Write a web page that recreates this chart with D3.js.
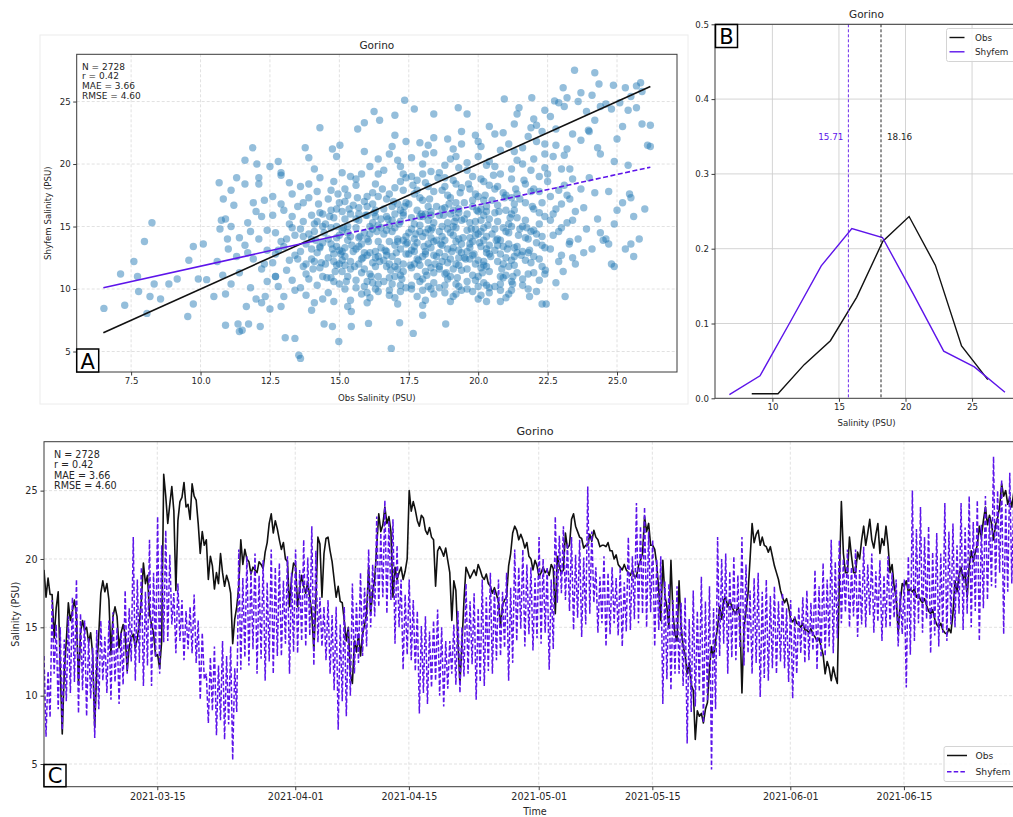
<!DOCTYPE html>
<html>
<head>
<meta charset="utf-8">
<script src="https://cdn.jsdelivr.net/npm/d3@7"></script>
<style>
body { margin: 0; background: #fff; }
svg text { font-family: "DejaVu Sans", sans-serif; fill: #262626; }
</style>
</head>
<body>
<svg id="fig" width="1013" height="817"></svg>
<script>
// ---- data ----
var stationName = "Gorino";
var statsLines = ["N = 2728", "r = 0.42", "MAE = 3.66", "RMSE = 4.60"];

// panel A: obs vs shyfem salinity (a thinned set of the scatter cloud)
var scatterOutliers = [
  [6.52,8.45],[7.12,11.2],[7.27,8.7],[7.6,12.2],[7.73,11.0],[7.77,9.8],[7.98,13.8],[8.07,8.05],[8.25,15.3],[8.18,9.4],
  [8.33,10.4],[8.56,9.2],[8.86,10.4],[9.16,10.8],[9.54,7.8],[9.58,12.3],[9.74,13.4],[9.74,8.8],[9.92,10.8],[10.1,13.6],
  [10.22,10.75],[10.48,9.4],[10.67,18.5],[10.82,17.2],[10.9,7.1],[10.97,14.0],[10.75,15.5],[11.1,15.0],[11.3,18.9],[11.35,7.2],
  [11.4,6.6],[11.5,6.7],[11.6,20.3],[11.65,8.6],[11.73,7.2],[11.88,21.3],[12.03,20.0],[12.1,18.4],[12.15,7.0],[12.33,9.4],
  [12.5,19.8],[12.5,8.4],[12.7,11.0],[12.9,19.3],[13.05,6.1],[13.4,6.05],[13.54,4.7],[13.6,4.45],[13.77,21.3],[13.9,18.4],
  [14.3,22.9],[14.45,7.2],[14.75,21.2],[14.75,7.0],[14.98,5.8],[15.02,21.5],[15.43,8.2],[15.43,7.0],[15.66,22.8],[15.9,23.3],
  [16.05,7.25],[16.25,24.2],[16.45,23.5],[16.87,5.25],[17.0,23.9],[17.17,7.3],[17.35,25.1],[17.66,6.45],[17.7,24.4],[18.0,7.9],
  [18.4,24.0],[18.83,7.2],[19.28,24.5],[19.6,24.0],[20.3,9.0],[20.8,9.0],[20.94,25.2],[21.24,10.4],[21.47,24.5],[21.85,9.4],
  [21.93,25.3],[22.3,8.8],[22.42,11.5],[22.45,8.8],[22.75,25.05],[23.06,26.1],[23.06,11.4],[23.13,9.4],[23.28,13.6],[23.47,27.5],
  [23.5,12.0],[23.7,25.7],[23.97,22.7],[24.2,27.3],[24.35,26.4],[24.5,13.9],[24.7,13.6],[24.8,12.0],[24.87,26.3],[24.9,11.8],
  [25.0,16.3],[25.3,26.1],[25.4,24.3],[25.45,17.6],[25.5,13.6],[25.6,12.6],[25.7,26.25],[25.85,26.5],[25.9,23.2],[26.1,21.5]
];
var scatterCore = [
  [10.6,12.2],[10.7,14.8],[10.8,11.1],[10.9,15.6],[11.0,13.2],[11.1,10.4],[11.2,16.7],[11.3,12.6],[11.4,14.1],[11.1,17.9],[10.9,9.6],[11.4,11.3],
  [11.6,13.5],[11.7,15.3],[11.8,10.1],[11.9,12.4],[12.0,16.2],[12.1,14.0],[12.2,11.6],[12.3,17.1],[12.4,13.1],[11.6,18.4],[11.8,14.6],[12.0,9.2],
  [12.2,15.8],[12.4,10.6],[11.7,12.9],[12.1,18.9],[12.3,12.0],[11.9,16.9],[12.4,14.7],[12.2,8.9],
  [12.6,12.1],[12.7,14.5],[12.8,10.2],[12.9,16.8],[13.0,13.4],[13.1,11.5],[13.2,15.2],[13.3,17.6],[13.4,12.7],[12.6,15.9],[12.8,13.1],[13.0,9.4],
  [13.2,18.5],[13.4,14.3],[12.7,11.0],[12.9,19.1],[13.1,14.0],[13.3,10.7],[12.6,17.4],[13.0,16.3],[13.4,9.9],[12.8,20.2],[13.2,12.3],[13.3,15.8],[12.9,8.6],
  [13.6,13.0],[13.7,15.4],[13.8,11.2],[13.9,17.3],[14.0,12.4],[14.1,14.6],[14.2,10.3],[14.3,16.1],[14.4,13.7],[13.6,18.2],[13.8,9.5],[14.0,15.9],
  [14.2,12.9],[14.4,11.0],[13.7,14.2],[13.9,10.8],[14.1,19.6],[14.3,13.3],[13.5,16.6],[14.4,15.0],[13.8,12.0],[14.0,8.3],[14.2,17.8],[14.3,11.7],
  [13.6,10.1],[14.1,12.2],[13.9,20.5],[14.4,9.2],[13.7,16.9],[14.0,14.0],[14.2,15.4],[13.8,13.6],[14.3,18.9],[14.1,8.9],[13.6,14.8],
  [14.6,12.5],[14.7,14.9],[14.8,10.6],[14.9,16.4],[15.0,13.1],[15.1,11.4],[15.2,15.6],[15.3,17.5],[15.4,12.2],[14.6,9.7],[14.8,18.6],[15.0,14.3],
  [15.2,10.0],[15.4,16.0],[14.7,13.6],[14.9,11.9],[15.1,19.3],[15.3,13.9],[14.5,15.2],[15.4,9.1],[14.8,12.8],[15.0,16.9],[15.2,13.3],[15.3,11.0],
  [14.6,17.2],[15.1,14.7],[14.9,20.6],[15.4,14.2],[14.7,10.9],[15.0,12.0],[15.2,18.0],[14.8,15.7],[15.3,8.6],[14.9,13.4],[15.1,16.2],[14.6,14.0],
  [15.4,19.0],[15.0,10.4],[15.2,12.6],[14.7,17.9],[15.3,15.0],[14.8,9.0],[15.1,13.0],[14.9,15.0],[15.4,11.6],
  [15.6,13.2],[15.7,15.5],[15.8,11.3],[15.9,17.0],[16.0,12.7],[16.1,14.4],[16.2,10.5],[16.3,16.3],[16.4,13.8],[15.6,18.8],[15.8,9.6],[16.0,15.9],
  [16.2,12.1],[16.4,11.0],[15.7,14.1],[15.9,10.2],[16.1,19.8],[16.3,13.0],[15.5,16.7],[16.4,15.1],[15.8,12.4],[16.0,8.9],[16.2,17.7],[16.3,11.8],
  [15.6,10.7],[16.1,12.9],[15.9,21.0],[16.4,9.8],[15.7,16.5],[16.0,14.0],[16.2,15.3],[15.8,13.6],[16.3,18.4],[16.1,9.3],[15.6,14.9],[16.4,20.4],
  [15.7,12.0],[16.0,17.4],[16.2,14.8],[15.9,11.6],[16.3,15.8],[15.8,19.2],[16.1,11.2],[16.4,12.6],[15.6,15.6],[16.0,10.6],[16.2,16.8],[15.9,14.5],
  [16.3,10.0],[15.7,13.4],
  [16.6,12.3],[16.7,14.7],[16.8,10.9],[16.9,16.6],[17.0,13.5],[17.1,11.6],[17.2,15.4],[17.3,17.9],[17.4,12.8],[16.6,19.5],[16.8,9.9],[17.0,16.0],
  [17.2,11.1],[17.4,14.2],[16.7,13.0],[16.9,10.4],[17.1,20.3],[17.3,13.9],[16.5,15.6],[17.4,16.9],[16.8,12.0],[17.0,9.3],[17.2,18.6],[17.3,11.4],
  [16.6,10.6],[17.1,14.0],[16.9,21.4],[17.4,10.1],[16.7,17.2],[17.0,14.9],[17.2,13.2],[16.8,15.1],[17.3,19.2],[17.1,8.8],[16.6,14.4],[17.4,21.8],
  [16.7,11.8],[17.0,18.1],[17.2,16.3],[16.9,12.6],[17.3,15.9],[16.8,17.6],[17.1,12.2],[17.4,13.6],[16.6,16.4],[17.0,11.0],[17.2,10.3],[16.9,14.6],
  [17.3,12.0],[16.7,15.8],[17.1,16.8],[16.5,13.3],[17.4,18.9],[16.8,13.8],[17.0,22.3],
  [17.6,13.1],[17.7,15.2],[17.8,11.0],[17.9,17.3],[18.0,12.6],[18.1,14.5],[18.2,10.2],[18.3,16.2],[18.4,13.8],[17.6,19.0],[17.8,9.4],[18.0,15.8],
  [18.2,12.1],[18.4,11.3],[17.7,14.0],[17.9,10.6],[18.1,20.8],[18.3,13.3],[17.5,16.8],[18.4,15.3],[17.8,12.4],[18.0,8.7],[18.2,18.2],[18.3,11.7],
  [17.6,10.3],[18.1,13.0],[17.9,21.7],[18.4,9.6],[17.7,17.6],[18.0,14.2],[18.2,15.5],[17.8,13.7],[18.3,19.4],[18.1,9.1],[17.6,14.8],[18.4,22.1],
  [17.7,12.0],[18.0,17.1],[18.2,14.8],[17.9,11.9],[18.3,15.9],[17.8,18.7],[18.1,11.4],[18.4,12.7],[17.6,15.7],[18.0,10.8],[18.2,16.6],[17.9,14.6],
  [18.3,10.0],[17.7,13.4],[18.1,16.0],[17.5,12.8],[18.4,17.8],[17.8,16.3],[18.0,20.0],[18.2,13.6],[17.9,15.1],[18.3,14.1],[17.6,11.7],[18.1,18.5],
  [18.6,12.9],[18.7,15.0],[18.8,11.2],[18.9,17.5],[19.0,12.4],[19.1,14.3],[19.2,10.4],[19.3,16.4],[19.4,13.6],[18.6,19.3],[18.8,9.7],[19.0,16.0],
  [19.2,12.0],[19.4,11.5],[18.7,14.2],[18.9,10.8],[19.1,21.2],[19.3,13.1],[18.5,16.6],[19.4,15.5],[18.8,12.6],[19.0,9.0],[19.2,18.4],[19.3,11.9],
  [18.6,10.1],[19.1,13.3],[18.9,22.0],[19.4,9.9],[18.7,17.9],[19.0,14.5],[19.2,15.7],[18.8,13.9],[19.3,19.7],[19.1,9.4],[18.6,14.6],[19.4,22.6],
  [18.7,12.2],[19.0,17.3],[19.2,14.9],[18.9,12.1],[19.3,16.1],[18.8,18.9],[19.1,11.6],[19.4,12.9],[18.6,15.9],[19.0,11.0],[19.2,16.9],[18.9,14.8],
  [19.3,10.2],[18.7,13.5],[19.1,16.3],[18.5,12.6],[19.4,18.1],[18.8,16.5],[19.0,20.4],[19.2,13.8],[18.9,15.3],[19.3,14.0],[18.6,11.8],[19.1,18.7],
  [19.6,13.0],[19.7,15.3],[19.8,11.1],[19.9,17.6],[20.0,12.3],[20.1,14.6],[20.2,10.5],[20.3,16.6],[20.4,13.5],[19.6,19.5],[19.8,9.8],[20.0,16.2],
  [20.2,12.2],[20.4,11.4],[19.7,14.1],[19.9,10.7],[20.1,21.4],[20.3,13.2],[19.5,16.9],[20.4,15.6],[19.8,12.7],[20.0,9.2],[20.2,18.6],[20.3,11.8],
  [19.6,10.0],[20.1,13.4],[19.9,22.3],[20.4,10.1],[19.7,18.0],[20.0,14.4],[20.2,15.9],[19.8,13.8],[20.3,19.9],[20.1,9.5],[19.6,14.7],[20.4,23.0],
  [19.7,12.4],[20.0,17.4],[20.2,14.9],[19.9,12.0],[20.3,16.2],[19.8,19.0],[20.1,11.7],[20.4,12.8],[19.6,16.0],[20.0,11.0],[20.2,17.1],[19.9,14.8],
  [20.3,10.3],[19.7,13.6],[20.1,16.4],[19.5,12.5],[20.4,18.3],[19.8,16.6],[20.0,20.6],[20.2,13.9],[19.9,15.4],[20.3,14.2],[19.6,11.6],[20.1,18.8],
  [20.6,13.1],[20.7,15.4],[20.8,11.0],[20.9,17.7],[21.0,12.5],[21.1,14.5],[21.2,10.6],[21.3,16.8],[21.4,13.4],[20.6,19.8],[20.8,9.9],[21.0,16.3],
  [21.2,12.3],[21.4,11.3],[20.7,14.0],[20.9,10.9],[21.1,21.6],[21.3,13.3],[20.5,17.1],[21.4,15.7],[20.8,12.8],[21.0,9.3],[21.2,18.8],[21.3,11.9],
  [20.6,10.2],[21.1,13.6],[20.9,22.5],[21.4,20.3],[20.7,18.2],[21.0,14.6],[21.2,16.0],[20.8,13.9],[21.3,23.2],[21.1,9.6],[20.6,14.8],[21.4,24.0],
  [20.7,12.2],[21.0,17.5],[21.2,15.0],[20.9,12.0],[21.3,16.3],[20.8,19.2],[21.1,11.8],[21.4,12.9],[20.6,16.1],[21.0,11.1],[21.2,17.3],[20.9,14.9],
  [21.3,21.0],[20.7,13.5],
  [21.6,13.0],[21.7,15.5],[21.8,11.2],[21.9,17.8],[22.0,12.6],[22.1,14.4],[22.2,10.7],[22.3,16.9],[22.4,13.3],[21.6,20.0],[21.8,10.0],[22.0,16.4],
  [22.2,12.4],[22.4,11.2],[21.7,14.1],[21.9,22.9],[22.1,21.8],[22.3,13.5],[21.5,17.2],[22.4,15.8],[21.8,12.9],[22.0,23.6],[22.2,19.0],[22.3,11.8],
  [21.6,10.3],[22.1,13.7],[21.9,19.5],[22.4,24.3],[21.7,18.4],[22.0,14.7],[22.2,16.1],[21.8,14.0],[22.3,22.6],[22.1,9.8],[21.6,15.0],[22.4,20.8],
  [21.7,12.3],[22.0,18.0],[22.2,15.2],[21.9,12.1],
  [22.6,13.2],[22.7,16.0],[22.8,21.5],[22.9,17.9],[23.0,12.7],[23.1,24.6],[23.2,15.3],[23.3,19.6],[23.4,22.4],[22.6,23.8],[22.8,10.5],[23.0,16.8],
  [23.2,21.2],[23.4,12.5],[22.7,14.3],[22.9,24.9],[23.1,18.3],[23.3,13.8],[22.5,19.2],[23.4,15.5],[22.8,22.8],[23.0,14.9],[23.2,25.3],[23.3,17.2],
  [22.6,17.4],[23.1,20.7],[22.9,12.2],[23.4,18.8],
  [23.6,14.0],[23.7,21.9],[23.8,16.5],[23.9,24.2],[24.0,18.9],[24.1,13.2],[24.2,23.5],[24.3,15.6],[24.4,20.8],[23.6,25.0],[23.8,12.9],[24.0,22.6],
  [24.2,17.7],[24.4,24.6],[23.7,18.0],[23.9,14.8],[24.1,25.5],[24.3,21.3],[23.5,16.2],[24.4,14.5],
  [24.6,24.8],[24.7,17.8],[24.8,24.4],[24.9,15.2],[25.0,22.0],[25.1,24.9],[25.2,16.9],[25.3,13.2],[25.4,19.9],[25.5,25.4],[25.6,15.8],[25.7,24.5],
  [25.8,14.0],[25.9,25.8],[26.0,16.4],[24.6,14.0],[24.9,20.2],[25.2,23.0],[25.5,17.3],[26.2,23.1],[26.2,21.4]
];
// the densest part of the cloud
var scatterDense = [
  [14.05,11.6],[14.15,13.9],[14.25,16.8],[14.35,12.1],[14.45,14.5],[14.55,10.9],[14.65,15.8],[14.75,13.2],[14.85,11.4],[14.95,17.6],
  [15.05,12.8],[15.15,14.9],[15.25,10.6],[15.35,16.4],[15.45,13.5],[15.55,11.8],[15.65,17.3],[15.75,14.2],[15.85,12.5],[15.95,15.9],
  [16.05,13.8],[16.15,11.0],[16.25,16.1],[16.35,14.6],[16.45,12.2],[16.55,18.0],[16.65,13.1],[16.75,15.6],[16.85,11.5],[16.95,17.0],
  [17.05,12.9],[17.15,15.2],[17.25,10.8],[17.35,16.6],[17.45,13.7],[17.55,11.9],[17.65,18.3],[17.75,14.4],[17.85,12.3],[17.95,16.0],
  [18.05,13.4],[18.15,11.1],[18.25,17.2],[18.35,14.9],[18.45,12.0],[18.55,18.9],[18.65,13.6],[18.75,15.9],[18.85,11.3],[18.95,16.8],
  [19.05,13.0],[19.15,15.4],[19.25,10.9],[19.35,17.7],[19.45,14.1],[19.55,12.4],[19.65,18.4],[19.75,14.8],[19.85,12.8],[19.95,16.3],
  [20.05,13.7],[20.15,11.3],[20.25,17.5],[20.35,15.1],[20.45,12.6],[20.55,19.1],[20.65,13.9],[20.75,16.2],[20.85,11.6],[20.95,17.3],
  [21.05,13.2],[21.15,15.7],[21.25,11.0],[21.35,18.0],[21.45,14.3],[21.55,12.7],[21.65,18.7],[21.75,14.9],[21.85,13.1],[21.95,16.6],
  [14.1,15.2],[14.3,13.4],[14.5,12.0],[14.7,16.3],[14.9,14.1],[15.1,12.3],[15.3,14.5],[15.5,13.0],[15.7,16.0],[15.9,12.9],
  [16.1,15.0],[16.3,12.5],[16.5,14.9],[16.7,12.7],[16.9,15.5],[17.1,13.8],[17.3,16.1],[17.5,14.5],[17.7,13.0],[17.9,15.8],
  [18.1,12.8],[18.3,14.7],[18.5,13.9],[18.7,16.4],[18.9,13.2],[19.1,15.0],[19.3,12.5],[19.5,15.6],[19.7,13.3],[19.9,14.3],
  [20.1,15.5],[20.3,12.9],[20.5,14.4],[20.7,16.7],[20.9,13.4],[21.1,15.2],[21.3,12.6],[21.5,14.8],[21.7,16.9],[21.9,14.6],
  [17.2,19.8],[17.6,20.5],[18.0,19.2],[18.4,20.9],[18.8,19.9],[19.2,20.6],[19.6,20.1],[20.0,21.8],[20.4,20.2],[20.8,21.1],
  [21.2,19.6],[21.6,21.3],[22.0,20.4],[22.4,19.7],[18.2,21.5],[19.4,21.6],[20.6,22.4],[21.8,22.2],[16.4,19.2],[16.8,20.8],
  [15.6,10.1],[16.0,9.7],[16.4,10.4],[16.8,9.5],[17.2,9.8],[17.6,10.0],[18.0,9.9],[18.4,10.5],[18.8,10.3],[19.2,9.6],
  [19.6,10.6],[20.0,10.2],[20.4,9.7],[20.8,10.4],[21.2,9.9],[21.6,10.8],[22.0,11.3],[17.0,11.8],[18.6,11.6],[20.2,11.9],
  [15.2,17.0],[15.6,18.3],[16.0,16.6],[16.4,17.4],[17.8,17.9],[18.8,18.2],[19.8,17.1],[20.6,18.0],[21.4,17.6],[22.2,17.8],
  [14.4,16.0],[14.8,12.2],[15.2,11.9],[13.9,14.4],[13.7,11.8],[14.0,13.2],[13.5,12.4],[12.9,13.8],[13.3,14.9],[12.7,12.8],
  [22.3,14.2],[22.6,15.5],[22.9,14.6],[22.5,18.6],[22.8,16.4],[23.0,19.6],[22.7,20.6],[23.2,17.5],[22.4,21.6],[22.1,23.1]
];
var oneToOneX = [6.5, 26.2];
var oneToOneY = [6.5, 26.2];
var fitSolidX = [6.5, 15.0];
var fitSolidY = [10.1, 14.3];
var fitDashX = [15.0, 26.2];
var fitDashY = [14.3, 19.75];
var scatterXTicks = [7.5, 10, 12.5, 15, 17.5, 20, 22.5, 25];
var scatterYTicks = [5, 10, 15, 20, 25];

// panel B: distributions
var obsBinX = [8.45, 10.42, 12.39, 14.36, 16.33, 18.3, 20.27, 22.24, 24.21, 26.18];
var obsBinY = [0.006, 0.006, 0.045, 0.077, 0.135, 0.21, 0.243, 0.178, 0.07, 0.025];
var modBinX = [6.77, 9.07, 11.37, 13.67, 15.97, 18.27, 20.57, 22.87, 25.17, 27.47];
var modBinY = [0.005, 0.03, 0.103, 0.177, 0.227, 0.215, 0.14, 0.063, 0.042, 0.008];
var obsMean = 18.16;
var modMean = 15.71;
var distXTicks = [10, 15, 20, 25];
var distYTicks = [0, 0.1, 0.2, 0.3, 0.4, 0.5];

// panel C: time series, 6-hourly samples starting 2021-03-01 01:00 UTC
var seriesStart = "2021-03-01T01:00";
var seriesEnd = "2021-06-30T01:00";
var obsStepHours = 6;
var obsSeries = [
  19.2,17.2,18.6,17.4, 17.4,14.2,16.4,17.6, 12.0,7.2,11.8,14.0, 16.8,15.5,16.2,17.0, 15.8,10.8,14.6,15.5,
  14.8,15.0,13.9,14.6, 13.0,7.7,12.0,14.5, 17.5,18.4,17.6,18.2, 17.0,13.0,15.8,16.5, 15.8,13.5,14.6,15.2,
  14.5,11.8,13.6,14.2, 14.5,13.5,14.2,15.3, 17.0,19.7,18.2,18.8, 16.0,15.2,14.6,12.9, 13.0,12.0,14.0,26.2,
  24.6,22.6,24.0,25.3, 23.5,17.7,22.8,24.2, 24.5,25.6,23.8,24.0, 22.9,25.5,24.6,24.3, 22.6,20.4,22.0,21.0,
  21.4,18.5,20.2,19.5, 17.8,19.0,18.2,20.4, 19.0,18.0,18.8,18.3, 17.5,13.8,15.6,16.5, 18.0,21.4,19.6,20.7,
  20.0,19.8,18.9,19.4, 19.2,19.0,19.8,19.6, 19.3,20.5,21.2,22.6, 23.3,21.9,22.8,22.2, 21.4,20.7,21.2,20.0,
  19.8,16.5,18.6,19.7, 19.5,16.5,17.8,18.8, 18.0,17.5,18.3,17.2, 16.0,13.3,17.0,21.6, 21.1,17.2,20.4,21.5,
  21.6,20.6,19.8,18.5, 17.2,18.0,16.9,16.8, 15.5,14.0,15.0,11.6, 10.9,14.0,13.2,14.5, 12.9,14.5,15.2,16.0,
  19.4,16.0,17.6,18.5, 21.0,23.3,22.0,22.5, 23.8,22.6,23.1,22.0, 17.2,19.4,18.5,19.0, 19.4,18.5,19.1,20.0,
  25.0,23.5,24.2,23.6, 22.8,22.4,23.2,23.0, 22.1,21.8,22.3,21.6, 21.4,18.0,20.6,20.9, 20.6,20.2,20.8,19.9,
  19.0,15.5,18.4,17.7, 14.0,10.9,13.8,17.0, 19.4,19.0,18.6,18.9, 19.2,18.8,19.6,19.2, 18.7,18.5,18.9,18.2,
  18.0,17.5,17.9,17.4, 16.9,15.1,16.6,17.0, 17.2,19.5,20.4,21.9, 22.4,22.1,21.4,21.8, 21.4,20.8,21.2,20.2,
  20.0,19.2,19.9,19.5, 18.7,19.0,19.4,19.0, 19.2,18.8,19.6,19.3, 16.0,20.2,19.4,19.0, 19.2,21.9,20.8,21.0,
  22.9,23.3,22.4,22.0, 21.6,21.5,20.8,21.0, 21.0,21.8,21.3,22.1, 21.6,21.4,20.9,21.0, 21.0,20.9,21.2,20.6,
  20.6,20.0,20.3,19.6, 19.4,19.2,19.6,19.2, 19.0,18.8,19.2,18.7, 18.7,19.5,19.9,20.4, 23.1,22.0,22.6,21.0,
  21.0,20.7,19.6,17.7, 15.5,19.9,17.4,16.5, 15.0,19.9,16.0,14.5, 14.0,18.4,15.0,13.6, 13.0,11.6,12.4,10.8,
  10.4,6.8,8.9,8.5, 8.7,8.0,9.0,9.5, 12.0,13.6,12.8,14.0, 15.0,16.5,15.6,17.0, 17.2,16.5,17.0,16.5,
  16.2,16.0,16.6,15.8, 10.2,15.0,16.2,17.5, 20.0,22.6,21.2,21.8, 22.1,21.0,21.6,21.0, 20.9,20.5,20.9,20.2,
  19.5,19.0,18.5,17.7, 17.2,16.8,17.1,16.5, 15.6,15.4,15.7,15.3, 15.2,15.0,15.3,14.8, 14.8,14.6,14.9,14.5,
  14.3,14.0,14.2,13.6, 13.0,11.6,12.5,12.0, 11.1,12.1,11.4,10.9, 18.5,24.2,20.4,19.0, 19.0,21.6,20.2,19.0,
  19.0,20.5,20.0,21.4, 22.4,21.0,21.9,22.9, 21.4,20.8,21.8,22.6, 20.4,21.5,21.0,22.4, 21.0,19.0,19.6,18.0,
  17.2,14.6,16.8,18.2, 18.0,18.4,17.6,17.8, 17.6,17.8,17.2,17.4, 17.0,16.8,17.1,16.6, 16.2,16.0,16.3,15.6,
  15.2,15.0,15.3,14.8, 14.6,14.5,14.9,14.6, 16.0,18.4,17.6,18.8, 19.4,18.5,19.0,17.2, 19.5,20.6,19.8,20.5,
  21.0,22.4,21.6,22.8, 23.8,22.5,23.2,22.6, 21.4,22.5,23.0,23.8, 25.5,24.6,25.0,24.0, 24.5,23.8,24.9,24.6,
  23.8,24.2,23.4,23.5
];
var modStepHours = 6;
var modSeries = [
  12.9,7.0,11.8,8.4, 17.0,11.6,15.2,9.0, 15.0,7.5,14.1,9.6, 15.8,10.2,17.2,11.0, 18.5,8.7,16.0,10.4,
  15.5,8.5,14.2,9.8, 13.5,6.9,14.8,9.0, 15.5,11.1,14.3,10.2, 15.5,9.7,16.1,11.0, 15.0,9.4,14.6,10.8,
  17.7,11.6,16.4,12.5, 21.6,11.1,18.5,12.4, 19.4,10.7,17.6,12.2, 21.4,10.7,19.0,12.8, 23.1,11.6,21.0,13.9,
  22.1,14.0,20.3,15.2, 17.5,13.1,18.2,14.0, 17.0,12.6,16.2,13.4, 16.5,13.1,17.4,12.4, 15.5,9.7,14.6,11.2,
  11.6,8.0,12.8,8.9, 13.6,7.1,12.2,8.2, 14.0,6.8,12.9,7.9, 13.6,5.3,12.0,8.8, 20.7,11.9,18.6,12.8,
  20.2,12.2,19.1,13.4, 20.4,11.6,18.8,12.7, 19.9,11.1,18.3,12.5, 20.7,11.6,19.4,12.9, 19.7,12.9,18.4,13.8,
  20.2,11.6,19.0,13.2, 20.7,13.1,19.2,14.0, 21.4,13.6,20.1,14.4, 22.4,12.2,20.6,13.9, 17.2,13.6,16.5,12.6,
  17.0,11.6,15.9,10.4, 16.5,7.5,15.2,9.6, 16.5,8.5,15.0,10.0, 18.2,11.6,16.8,12.4, 19.0,12.9,17.9,13.6,
  20.7,15.0,19.6,15.8, 23.1,16.5,21.9,17.2, 24.3,16.0,22.8,17.0, 22.9,13.8,21.0,15.0, 18.5,11.9,17.4,13.0,
  18.5,12.6,17.0,11.8, 16.2,8.7,15.1,10.2, 15.8,9.4,14.7,10.6, 15.5,11.1,16.3,10.0, 15.0,9.2,14.0,10.5,
  14.0,11.6,15.2,10.8, 16.2,10.2,15.0,11.4, 18.2,11.6,16.9,12.3, 17.5,9.7,16.4,11.0, 18.5,10.7,17.2,11.8,
  19.0,11.6,17.8,12.6, 18.5,12.9,17.6,13.5, 19.0,11.1,17.9,12.4, 20.7,14.0,19.4,14.9, 20.7,13.6,19.6,14.5,
  19.4,13.3,18.6,14.2, 21.6,13.8,20.0,14.6, 19.4,11.9,18.5,13.4, 23.1,16.8,21.7,17.5, 22.4,17.0,21.2,16.2,
  21.6,14.8,20.3,15.7, 21.4,14.3,20.1,15.2, 25.3,16.0,22.0,16.8, 19.4,14.6,18.7,15.3, 20.2,13.6,19.0,14.5,
  19.4,15.3,18.6,14.4, 19.4,13.6,18.3,14.7, 21.6,14.8,20.2,15.6, 24.1,15.3,22.4,16.0, 23.8,15.0,22.0,16.1,
  21.4,13.6,20.0,14.8, 20.2,9.4,18.4,11.2, 18.2,10.4,17.0,11.6, 18.0,11.6,16.8,10.7, 17.2,6.5,15.6,8.8,
  17.7,9.2,16.2,10.3, 18.7,8.0,16.9,9.6, 18.0,4.6,16.4,9.0, 21.6,12.9,20.0,13.8, 20.4,11.6,19.1,12.8,
  20.2,12.6,18.8,13.5, 21.6,12.2,19.6,13.1, 17.7,11.6,18.6,12.4, 19.0,9.9,17.6,11.3, 18.5,11.1,17.3,12.0,
  18.0,11.6,16.9,12.5, 17.5,12.0,16.4,11.0, 17.0,9.8,15.8,11.6, 16.5,13.1,17.2,12.4, 17.7,12.6,16.8,13.3,
  19.2,11.9,18.0,12.8, 19.7,12.9,18.5,13.6, 21.4,13.1,19.8,14.2, 21.4,15.3,20.0,16.1, 20.7,15.0,19.4,15.8,
  20.7,14.3,19.2,15.2, 20.9,15.0,19.6,15.9, 20.4,14.6,19.1,15.4, 19.9,14.0,18.8,15.0, 20.2,15.0,19.0,15.7,
  18.5,13.6,17.6,14.5, 18.5,10.6,20.2,13.0, 25.0,14.0,22.2,15.3, 23.8,14.6,21.6,15.6, 22.4,13.1,20.5,14.4,
  21.9,13.6,20.4,14.6, 24.1,14.0,22.0,15.2, 22.6,15.0,21.0,16.0, 24.1,14.8,22.3,16.0, 24.6,15.0,22.7,16.2,
  24.3,14.0,22.5,16.4, 24.6,17.0,23.0,18.0, 27.5,17.9,25.0,19.0, 25.8,14.5,24.0,17.6, 26.3,18.2,24.8,19.2,
  25.5,18.8,24.6,19.5
];
var dateTicks = ["2021-03-15", "2021-04-01", "2021-04-15", "2021-05-01", "2021-05-15", "2021-06-01", "2021-06-15"];
var tsYTicks = [5, 10, 15, 20, 25];
var seriesNames = ["Obs", "Shyfem"];

var obsColor = "#111111";
var modColor = "#5d14ea";
var dotColor = "#1f77b4";

var svg = d3.select("#fig");

function styleAxis(ax, size) {
  ax.selectAll("path").attr("stroke", "#3a3a3a");
  ax.selectAll(".tick line").attr("stroke", "#3a3a3a");
  ax.selectAll("text").attr("font-family", "DejaVu Sans, sans-serif").attr("font-size", size).attr("fill", "#262626");
}

function labelBox(x0, y0, w, h, letter) {
  svg.append("rect").attr("x", x0).attr("y", y0).attr("width", w).attr("height", h)
    .attr("fill", "#fff").attr("stroke", "#000").attr("stroke-width", 1.5);
  svg.append("text").attr("x", x0 + w / 2).attr("y", y0 + h - 3.5).attr("text-anchor", "middle")
    .attr("font-size", 21).style("fill", "#000").text(letter);
}

// ================= panel A =================
function drawScatter() {
  var L = 76.7, R = 677, T = 54.3, B = 372;
  var x = d3.scaleLinear().domain([5.54, 27.16]).range([L, R]);
  var y = d3.scaleLinear().domain([3.36, 28.78]).range([B, T]);

  svg.append("rect").attr("x", 40).attr("y", 35).attr("width", 648).attr("height", 369)
    .attr("fill", "none").attr("stroke", "#ececec");

  var g = svg.append("g");
  g.selectAll(".gx").data(scatterXTicks).enter().append("line")
    .attr("x1", d => x(d)).attr("x2", d => x(d)).attr("y1", T).attr("y2", B)
    .attr("stroke", "#d9d9d9").attr("stroke-dasharray", "3,2").attr("stroke-width", 0.8);
  g.selectAll(".gy").data(scatterYTicks).enter().append("line")
    .attr("x1", L).attr("x2", R).attr("y1", d => y(d)).attr("y2", d => y(d))
    .attr("stroke", "#d9d9d9").attr("stroke-dasharray", "3,2").attr("stroke-width", 0.8);

  var pts = scatterOutliers.concat(scatterCore, scatterDense);
  g.selectAll("circle").data(pts).enter().append("circle")
    .attr("cx", d => x(d[0])).attr("cy", d => y(d[1])).attr("r", 3.7)
    .attr("fill", dotColor).attr("fill-opacity", 0.48);

  var line = d3.line().x(d => x(d[0])).y(d => y(d[1]));
  g.append("path").attr("d", line(d3.zip(oneToOneX, oneToOneY)))
    .attr("stroke", obsColor).attr("stroke-width", 1.6).attr("fill", "none");
  g.append("path").attr("d", line(d3.zip(fitSolidX, fitSolidY)))
    .attr("stroke", modColor).attr("stroke-width", 1.6).attr("fill", "none");
  g.append("path").attr("d", line(d3.zip(fitDashX, fitDashY)))
    .attr("stroke", modColor).attr("stroke-width", 1.6).attr("fill", "none").attr("stroke-dasharray", "5,2.5");

  var ax = svg.append("g").attr("transform", "translate(0," + B + ")")
    .call(d3.axisBottom(x).tickValues(scatterXTicks).tickFormat(d3.format(".1f")).tickSize(3.5).tickPadding(2.5));
  styleAxis(ax, 8.6);
  var ay = svg.append("g").attr("transform", "translate(" + L + ",0)")
    .call(d3.axisLeft(y).tickValues(scatterYTicks).tickFormat(d3.format("d")).tickSize(3.5).tickPadding(2.5));
  styleAxis(ay, 8.6);
  ax.select(".domain").remove();
  ay.select(".domain").remove();
  svg.append("rect").attr("x", L).attr("y", T).attr("width", R - L).attr("height", B - T)
    .attr("fill", "none").attr("stroke", "#3a3a3a").attr("stroke-width", 1);

  svg.append("text").attr("x", (L + R) / 2).attr("y", 49).attr("text-anchor", "middle")
    .attr("font-size", 10.5).text(stationName);
  svg.append("text").attr("x", (L + R) / 2).attr("y", 401).attr("text-anchor", "middle")
    .attr("font-size", 8.6).text("Obs Salinity (PSU)");
  svg.append("text").attr("transform", "translate(51," + ((T + B) / 2) + ") rotate(-90)")
    .attr("text-anchor", "middle").attr("font-size", 8.6).text("Shyfem Salinity (PSU)");

  svg.selectAll(".statA").data(statsLines).enter().append("text")
    .attr("x", 82).attr("y", (d, i) => 69.5 + i * 9.9).attr("font-size", 9).text(d => d);

  labelBox(L, 349, 22, 23, "A");
}

// ================= panel B =================
function drawDistribution() {
  var L = 715, R = 1020, T = 24.3, B = 398.3;
  var x = d3.scaleLinear().domain([5.69, 28.6]).range([L, R]);
  var y = d3.scaleLinear().domain([0, 0.5]).range([B, T]);
  var g = svg.append("g");

  g.selectAll(".gx").data(distXTicks).enter().append("line")
    .attr("x1", d => x(d)).attr("x2", d => x(d)).attr("y1", T).attr("y2", B)
    .attr("stroke", "#cfcfcf").attr("stroke-width", 0.9);
  g.selectAll(".gy").data(distYTicks.slice(1)).enter().append("line")
    .attr("x1", L).attr("x2", R).attr("y1", d => y(d)).attr("y2", d => y(d))
    .attr("stroke", "#cfcfcf").attr("stroke-width", 0.9);

  var line = d3.line().x(d => x(d[0])).y(d => y(d[1]));
  g.append("path").attr("d", line(d3.zip(obsBinX, obsBinY)))
    .attr("stroke", obsColor).attr("stroke-width", 1.4).attr("fill", "none");
  g.append("path").attr("d", line(d3.zip(modBinX, modBinY)))
    .attr("stroke", modColor).attr("stroke-width", 1.4).attr("fill", "none");

  g.append("line").attr("x1", x(modMean)).attr("x2", x(modMean)).attr("y1", T).attr("y2", B)
    .attr("stroke", modColor).attr("stroke-width", 0.9).attr("stroke-dasharray", "3,2");
  g.append("line").attr("x1", x(obsMean)).attr("x2", x(obsMean)).attr("y1", T).attr("y2", B)
    .attr("stroke", obsColor).attr("stroke-width", 0.9).attr("stroke-dasharray", "3,2");
  g.append("text").attr("x", x(modMean) - 5).attr("y", y(0.35) + 3).attr("text-anchor", "end")
    .attr("font-size", 8.8).style("fill", modColor).text(modMean.toFixed(2));
  g.append("text").attr("x", x(obsMean) + 6).attr("y", y(0.35) + 3).attr("text-anchor", "start")
    .attr("font-size", 8.8).style("fill", "#222").text(obsMean.toFixed(2));

  var ax = svg.append("g").attr("transform", "translate(0," + B + ")")
    .call(d3.axisBottom(x).tickValues(distXTicks).tickFormat(d3.format("d")).tickSize(3.5).tickPadding(2.5));
  styleAxis(ax, 8.6);
  var ay = svg.append("g").attr("transform", "translate(" + L + ",0)")
    .call(d3.axisLeft(y).tickValues(distYTicks).tickFormat(d3.format(".1f")).tickSize(3.5).tickPadding(2.5));
  styleAxis(ay, 8.6);
  ax.select(".domain").remove();
  ay.select(".domain").remove();
  svg.append("rect").attr("x", L).attr("y", T).attr("width", R - L).attr("height", B - T)
    .attr("fill", "none").attr("stroke", "#3a3a3a").attr("stroke-width", 1);

  svg.append("text").attr("x", 866.5).attr("y", 17.5).attr("text-anchor", "middle")
    .attr("font-size", 10.5).text(stationName);
  svg.append("text").attr("x", 866.5).attr("y", 426).attr("text-anchor", "middle")
    .attr("font-size", 8.6).text("Salinity (PSU)");

  // legend
  var lg = svg.append("g");
  lg.append("rect").attr("x", 946.5).attr("y", 28.5).attr("width", 80).attr("height", 33).attr("rx", 2)
    .attr("fill", "#fff").attr("fill-opacity", 0.85).attr("stroke", "#d4d4d4");
  [obsColor, modColor].forEach(function (c, i) {
    var yy = 37.5 + i * 14.3;
    lg.append("line").attr("x1", 949.5).attr("x2", 964.5).attr("y1", yy).attr("y2", yy)
      .attr("stroke", c).attr("stroke-width", 1.4);
    lg.append("text").attr("x", 975).attr("y", yy + 3.2).attr("font-size", 8.8).text(seriesNames[i]);
  });

  labelBox(L + 0.5, 24.5, 22, 23, "B");
}

// ================= panel C =================
function drawSeries() {
  var L = 44, R = 1026, T = 441.7, B = 786.7;
  var parseT = d3.utcParse("%Y-%m-%dT%H:%M");
  var t0 = parseT(seriesStart);
  var x = d3.scaleUtc().domain([t0, parseT(seriesEnd)]).range([L, R]);
  var y = d3.scaleLinear().domain([3.34, 28.58]).range([B, T]);
  var tickDates = dateTicks.map(d3.utcParse("%Y-%m-%d"));

  svg.append("clipPath").attr("id", "clipC").append("rect")
    .attr("x", L).attr("y", T).attr("width", R - L).attr("height", B - T);

  var g = svg.append("g");
  g.selectAll(".gx").data(tickDates).enter().append("line")
    .attr("x1", d => x(d)).attr("x2", d => x(d)).attr("y1", T).attr("y2", B)
    .attr("stroke", "#d9d9d9").attr("stroke-dasharray", "3,2").attr("stroke-width", 0.8);
  g.selectAll(".gy").data(tsYTicks).enter().append("line")
    .attr("x1", L).attr("x2", R).attr("y1", d => y(d)).attr("y2", d => y(d))
    .attr("stroke", "#d9d9d9").attr("stroke-dasharray", "3,2").attr("stroke-width", 0.8);

  var obsPts = obsSeries.map(function (v, i) { return [d3.utcHour.offset(t0, i * obsStepHours), v]; });
  var modPts = modSeries.map(function (v, i) { return [d3.utcHour.offset(t0, i * modStepHours), v]; });
  var line = d3.line().x(d => x(d[0])).y(d => y(d[1]));

  var lines = svg.append("g").attr("clip-path", "url(#clipC)");
  lines.append("path").attr("d", line(obsPts))
    .attr("stroke", obsColor).attr("stroke-width", 1.6).attr("fill", "none").attr("stroke-linejoin", "round");
  lines.append("path").attr("d", line(modPts))
    .attr("stroke", modColor).attr("stroke-width", 1.5).attr("fill", "none").attr("stroke-dasharray", "4.5,2.2");

  var ax = svg.append("g").attr("transform", "translate(0," + B + ")")
    .call(d3.axisBottom(x).tickValues(tickDates).tickFormat(d3.utcFormat("%Y-%m-%d")).tickSize(3.5).tickPadding(3));
  styleAxis(ax, 9.6);
  var ay = svg.append("g").attr("transform", "translate(" + L + ",0)")
    .call(d3.axisLeft(y).tickValues(tsYTicks).tickFormat(d3.format("d")).tickSize(3.5).tickPadding(3));
  styleAxis(ay, 9.6);
  ax.select(".domain").remove();
  ay.select(".domain").remove();
  svg.append("rect").attr("x", L).attr("y", T).attr("width", R - L).attr("height", B - T)
    .attr("fill", "none").attr("stroke", "#3a3a3a").attr("stroke-width", 1);

  svg.append("text").attr("x", 535).attr("y", 435).attr("text-anchor", "middle")
    .attr("font-size", 11.2).text(stationName);
  svg.append("text").attr("x", 535).attr("y", 815).attr("text-anchor", "middle")
    .attr("font-size", 9.6).text("Time");
  svg.append("text").attr("transform", "translate(19," + ((T + B) / 2) + ") rotate(-90)")
    .attr("text-anchor", "middle").attr("font-size", 9.6).text("Salinity (PSU)");

  svg.selectAll(".statC").data(statsLines).enter().append("text")
    .attr("x", 54).attr("y", (d, i) => 458 + i * 10.3).attr("font-size", 9.6).text(d => d);

  // legend
  var lg = svg.append("g");
  lg.append("rect").attr("x", 944).attr("y", 746.5).attr("width", 80).attr("height", 35).attr("rx", 2)
    .attr("fill", "#fff").attr("fill-opacity", 0.85).attr("stroke", "#d4d4d4");
  [obsColor, modColor].forEach(function (c, i) {
    var yy = 755.5 + i * 16.3;
    lg.append("line").attr("x1", 947).attr("x2", 967).attr("y1", yy).attr("y2", yy)
      .attr("stroke", c).attr("stroke-width", 1.5).attr("stroke-dasharray", i ? "4.5,2.2" : null);
    lg.append("text").attr("x", 975.5).attr("y", yy + 3.4).attr("font-size", 9.2).text(seriesNames[i]);
  });

  labelBox(L, 764.5, 22, 22.2, "C");
}

drawScatter();
drawDistribution();
drawSeries();
</script>
</body>
</html>
